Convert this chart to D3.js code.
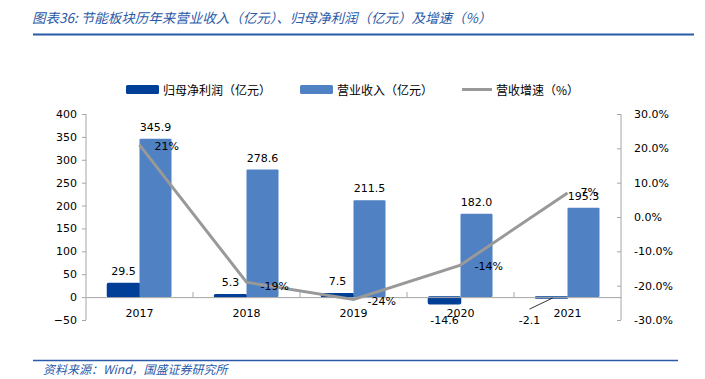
<!DOCTYPE html>
<html>
<head>
<meta charset="utf-8">
<script src="https://cdn.jsdelivr.net/npm/d3@7"></script>
<style>
  body { margin: 0; background: #fff; }
  svg { display: block; }
</style>
</head>
<body>
<script>
const years = ["2017", "2018", "2019", "2020", "2021"];
const profit = [29.5, 5.3, 7.5, -14.6, -2.1];
const revenue = [345.9, 278.6, 211.5, 182.0, 195.3];
const growth = [21, -19, -24, -14, 7];
const leftTicks = [-50, 0, 50, 100, 150, 200, 250, 300, 350, 400];
const rightTicks = [-30, -20, -10, 0, 10, 20, 30];

const width = 705, height = 379;
const darkBlue = "#003f98", lightBlue = "#4f81c3", gray = "#999999";
const numFont = "'DejaVu Sans', Verdana, sans-serif";
const cjkFont = "'Noto Sans CJK SC', sans-serif";

const svg = d3.select("body").append("svg")
  .attr("width", width)
  .attr("height", height);

// title + rule
svg.append("text")
  .attr("x", 32).attr("y", 23)
  .attr("font-family", cjkFont).attr("font-size", 13.5)
  .attr("font-style", "italic").attr("fill", "#2a5aa8")
  .text("图表36:  节能板块历年来营业收入（亿元）、归母净利润（亿元）及增速（%）");
svg.append("line")
  .attr("x1", 33).attr("x2", 694).attr("y1", 34.5).attr("y2", 34.5)
  .attr("stroke", "#2a5aa8").attr("stroke-width", 2);

// scales
const x = d3.scaleBand().domain(years).range([86, 621]);
const sub = d3.scaleBand().domain(["profit", "revenue"]).range([-32, 32]);
const y = d3.scaleLinear().domain([-50, 400]).range([320, 114]);
const y2 = d3.scaleLinear().domain([-30, 30]).range([320, 114]);
const cx = d => x(d) + x.bandwidth() / 2;

// left axis
const gL = svg.append("g").attr("transform", "translate(86,0)")
  .call(d3.axisLeft(y).tickValues(leftTicks).tickSize(4).tickPadding(5));
gL.select(".domain").attr("stroke", "#a6a6a6").attr("d", "M0,114V320");
gL.selectAll(".tick line").attr("stroke", "#a6a6a6");
gL.selectAll("text").attr("font-family", numFont).attr("font-size", 11).attr("fill", "#000");

// right axis
const gR = svg.append("g").attr("transform", "translate(621,0)")
  .call(d3.axisRight(y2).tickValues(rightTicks).tickSize(-4).tickPadding(13)
    .tickFormat(d => d.toFixed(1) + "%"));
gR.select(".domain").attr("stroke", "#a6a6a6").attr("d", "M0,114V320");
gR.selectAll(".tick line").attr("stroke", "#a6a6a6");
gR.selectAll("text").attr("font-family", numFont).attr("font-size", 11).attr("fill", "#000");

// bars
const rows = years.map((yr, i) => ({ yr, profit: profit[i], revenue: revenue[i], growth: growth[i] }));

svg.selectAll(".bar-p").data(rows).enter().append("rect")
  .attr("class", "bar-p")
  .attr("x", d => cx(d.yr) + sub("profit"))
  .attr("width", sub.bandwidth())
  .attr("y", d => y(Math.max(0, d.profit)))
  .attr("height", d => Math.abs(y(d.profit) - y(0)))
  .attr("rx", 1)
  .attr("fill", darkBlue)
  .attr("stroke", darkBlue)
  .attr("stroke-width", 1.5);

svg.selectAll(".bar-r").data(rows).enter().append("rect")
  .attr("class", "bar-r")
  .attr("x", d => cx(d.yr) + sub("revenue"))
  .attr("width", sub.bandwidth())
  .attr("y", d => y(d.revenue))
  .attr("height", d => y(0) - y(d.revenue))
  .attr("rx", 1)
  .attr("fill", lightBlue);

// x axis on zero line
const gX = svg.append("g").attr("transform", `translate(0,${y(0)})`)
  .call(d3.axisBottom(x).tickSize(0).tickPadding(12));
gX.select(".domain").attr("stroke", "#a6a6a6");
gX.selectAll("text").attr("font-family", numFont).attr("font-size", 11).attr("fill", "#000");
// category separator ticks (upward)
svg.selectAll(".sep").data(years.slice(1)).enter().append("line")
  .attr("x1", d => x(d)).attr("x2", d => x(d))
  .attr("y1", y(0)).attr("y2", y(0) - 5)
  .attr("stroke", "#a6a6a6");

// growth line
svg.append("path")
  .datum(rows)
  .attr("fill", "none")
  .attr("stroke", gray)
  .attr("stroke-width", 3)
  .attr("d", d3.line().x(d => cx(d.yr)).y(d => y2(d.growth)));

// labels
const lbl = (sel) => sel.attr("font-family", numFont).attr("font-size", 11).attr("fill", "#000");

svg.selectAll(".lab-r").data(rows).enter().append("text")
  .attr("x", d => cx(d.yr) + 16)
  .attr("y", d => y(d.revenue) - 8)
  .attr("text-anchor", "middle")
  .call(lbl)
  .text(d => d.revenue.toFixed(1));

svg.selectAll(".lab-p").data(rows.filter(d => d.yr !== "2021")).enter().append("text")
  .attr("x", d => cx(d.yr) - 16)
  .attr("y", d => d.profit >= 0 ? y(d.profit) - 9 : y(d.profit) + 20)
  .attr("text-anchor", "middle")
  .call(lbl)
  .text(d => d.profit.toFixed(1));

// 2021 profit label with leader line
const last = rows[4];
svg.append("line")
  .attr("x1", cx(last.yr) - 38).attr("y1", y(0) + 12)
  .attr("x2", cx(last.yr) - 15).attr("y2", y(last.profit))
  .attr("stroke", "#000").attr("stroke-width", 0.8);
svg.append("text")
  .attr("x", cx(last.yr) - 38).attr("y", y(0) + 27)
  .attr("text-anchor", "middle")
  .call(lbl)
  .text(last.profit.toFixed(1));

const gOff = [[15, 5], [14, 8], [14, 6], [14, 5], [13, 3]];
svg.selectAll(".lab-g").data(rows).enter().append("text")
  .attr("x", (d, i) => cx(d.yr) + gOff[i][0])
  .attr("y", (d, i) => y2(d.growth) + gOff[i][1])
  .call(lbl)
  .text(d => d.growth + "%");

// legend
const legend = svg.append("g").attr("font-family", cjkFont).attr("font-size", 12).attr("fill", "#000");
legend.append("rect").attr("x", 126).attr("y", 85).attr("width", 33).attr("height", 9).attr("rx", 1.5).attr("fill", darkBlue);
legend.append("text").attr("x", 163).attr("y", 94.5).text("归母净利润（亿元）");
legend.append("rect").attr("x", 300).attr("y", 85).attr("width", 33).attr("height", 9).attr("rx", 1.5).attr("fill", lightBlue);
legend.append("text").attr("x", 337).attr("y", 94.5).text("营业收入（亿元）");
legend.append("line").attr("x1", 462).attr("x2", 492).attr("y1", 89.5).attr("y2", 89.5).attr("stroke", gray).attr("stroke-width", 3);
legend.append("text").attr("x", 496).attr("y", 94.5).text("营收增速（%）");

// footer
svg.append("line")
  .attr("x1", 33).attr("x2", 678).attr("y1", 360.5).attr("y2", 360.5)
  .attr("stroke", "#2a5aa8").attr("stroke-width", 1.5);
svg.append("text")
  .attr("x", 43).attr("y", 374)
  .attr("font-family", cjkFont).attr("font-size", 12)
  .attr("font-style", "italic").attr("fill", "#2a5aa8")
  .text("资料来源：Wind，国盛证券研究所");
</script>
</body>
</html>
